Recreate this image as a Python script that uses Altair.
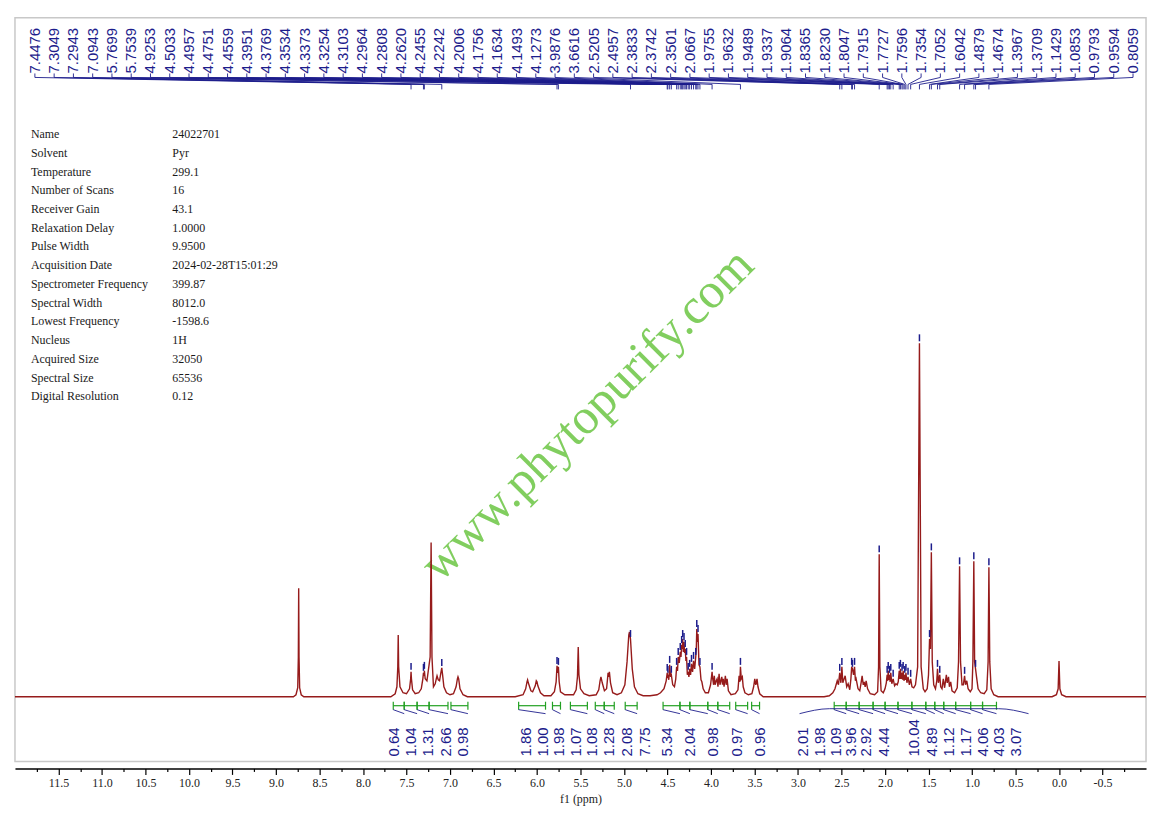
import altair as alt
import pandas as pd

# %%
# 1H NMR spectrum, 24022701 in pyridine
# heights are read off the picture, in pixels above the baseline

# spectrum vertices (ppm, height), one list per region, high ppm first
pyridine = [
    (12.0, 0), (8.80, 0), (8.77, 2), (8.75, 9), (8.743, 40), (8.739, 109),
    (8.735, 40), (8.728, 9), (8.71, 2), (8.68, 0),
    (7.68, 0), (7.63, 3), (7.61, 10), (7.60, 30), (7.595, 62), (7.590, 30),
    (7.575, 10), (7.54, 4), (7.50, 3), (7.465, 8), (7.452, 18), (7.4476, 25),
    (7.443, 18), (7.43, 7), (7.40, 3), (7.36, 4), (7.33, 8), (7.312, 18),
    (7.3049, 24), (7.2995, 21), (7.2943, 26), (7.285, 18), (7.265, 16),
    (7.228, 40), (7.217, 155), (7.207, 40), (7.19, 10), (7.17, 13),
    (7.155, 19), (7.149, 21), (7.135, 17), (7.12, 16), (7.105, 24),
    (7.0943, 29), (7.085, 22), (7.07, 10), (7.04, 4), (7.00, 2), (6.96, 3),
    (6.93, 10), (6.915, 18), (6.908, 20), (6.90, 18), (6.885, 8), (6.85, 2),
    (6.80, 0),
]
olefinic = [
    (6.25, 0), (6.16, 2), (6.13, 8), (6.115, 15), (6.108, 17), (6.10, 14),
    (6.07, 6), (6.05, 5), (6.02, 11), (6.008, 16), (6.0, 15), (5.99, 11),
    (5.96, 4), (5.92, 1), (5.84, 1), (5.80, 5), (5.78, 15), (5.7699, 31),
    (5.762, 24), (5.7539, 30), (5.745, 15), (5.73, 5), (5.68, 2), (5.58, 2),
    (5.55, 7), (5.535, 20), (5.526, 50), (5.518, 22), (5.50, 8), (5.46, 3),
    (5.40, 1), (5.32, 2), (5.29, 7), (5.275, 16), (5.265, 20), (5.25, 14),
    (5.225, 6), (5.20, 8), (5.183, 24), (5.176, 20), (5.168, 25),
    (5.155, 14), (5.13, 4), (5.08, 2), (5.03, 4), (4.99, 12), (4.965, 35),
    (4.945, 62), (4.937, 65), (4.9253, 58), (4.905, 28), (4.88, 10),
    (4.84, 3), (4.78, 1), (4.70, 1), (4.62, 2),
]
sugar = [
    (4.58, 4), (4.54, 8), (4.515, 16), (4.5033, 24), (4.4995, 19),
    (4.4957, 22), (4.485, 17), (4.4751, 32), (4.465, 20), (4.4559, 22),
    (4.44, 12), (4.42, 10), (4.405, 18), (4.3951, 30), (4.385, 26),
    (4.3769, 40), (4.365, 34), (4.3534, 45), (4.345, 40), (4.3373, 52),
    (4.331, 48), (4.3254, 58), (4.318, 45), (4.3103, 55), (4.303, 44),
    (4.2964, 48), (4.288, 36), (4.2808, 40), (4.272, 22), (4.2620, 25),
    (4.254, 20), (4.2455, 28), (4.235, 22), (4.2242, 33), (4.212, 25),
    (4.2006, 36), (4.188, 28), (4.1756, 40), (4.169, 48), (4.1634, 68),
    (4.156, 55), (4.1493, 63), (4.138, 32), (4.1273, 30), (4.115, 17),
    (4.105, 15), (4.09, 8), (4.065, 4),
    (4.03, 4), (4.005, 12), (3.9876, 25), (3.98, 18), (3.97, 12),
    (3.962, 21), (3.953, 12), (3.94, 16), (3.93, 18), (3.92, 10),
    (3.907, 23), (3.897, 12), (3.887, 16), (3.876, 20), (3.868, 12),
    (3.86, 18), (3.85, 10), (3.835, 21), (3.825, 12), (3.815, 18),
    (3.80, 6), (3.77, 2), (3.72, 3), (3.69, 7), (3.677, 21), (3.668, 15),
    (3.6616, 30), (3.652, 18), (3.64, 20), (3.63, 10), (3.61, 4),
    (3.57, 2), (3.53, 3), (3.51, 10), (3.497, 18), (3.485, 12),
    (3.471, 18), (3.46, 10), (3.44, 3), (3.40, 0),
]
aliphatic = [
    (2.70, 0), (2.64, 1), (2.60, 4), (2.575, 8), (2.549, 16), (2.535, 12),
    (2.5205, 24), (2.507, 14), (2.4957, 30), (2.485, 14), (2.458, 21),
    (2.44, 10), (2.424, 13), (2.405, 7), (2.392, 18), (2.3833, 30),
    (2.3742, 28), (2.362, 22), (2.3501, 30), (2.340, 16), (2.332, 18),
    (2.31, 8), (2.29, 6), (2.275, 14), (2.263, 21), (2.25, 12), (2.24, 15),
    (2.228, 10), (2.217, 16), (2.20, 8), (2.17, 3), (2.12, 2), (2.085, 5),
    (2.074, 30), (2.0667, 143), (2.059, 30), (2.045, 6), (2.02, 4),
    (2.00, 8), (1.985, 14), (1.9755, 22), (1.969, 16), (1.9632, 26),
    (1.956, 17), (1.9489, 22), (1.941, 15), (1.9337, 24), (1.922, 13),
    (1.9064, 18), (1.89, 11), (1.875, 13), (1.86, 12), (1.848, 15),
    (1.8365, 26), (1.829, 18), (1.8230, 28), (1.813, 18), (1.8047, 24),
    (1.798, 17), (1.7915, 26), (1.782, 16), (1.7727, 22), (1.766, 17),
    (1.7596, 24), (1.748, 14), (1.7354, 20), (1.72, 12), (1.7052, 18),
    (1.69, 10), (1.67, 9), (1.65, 12), (1.625, 30), (1.6042, 355),
    (1.585, 30), (1.56, 8), (1.54, 5), (1.515, 8), (1.50, 22), (1.4879, 58),
    (1.478, 48), (1.4674, 145), (1.457, 35), (1.44, 12), (1.42, 8),
    (1.405, 16), (1.3967, 28), (1.386, 14), (1.3709, 22), (1.36, 10),
    (1.345, 8), (1.33, 18), (1.315, 9), (1.295, 22), (1.285, 14),
    (1.27, 20), (1.26, 10), (1.245, 15), (1.23, 6), (1.20, 4), (1.17, 9),
    (1.155, 35), (1.1429, 131), (1.132, 35), (1.115, 12), (1.10, 12),
    (1.0853, 21), (1.075, 12), (1.06, 16), (1.045, 8), (1.02, 5), (1.00, 8),
    (0.99, 35), (0.9793, 136), (0.97, 35), (0.9594, 28), (0.948, 20),
    (0.93, 8), (0.90, 4), (0.86, 3), (0.83, 7), (0.815, 35), (0.8059, 130),
    (0.796, 35), (0.78, 8), (0.75, 2), (0.70, 0),
]
tms = [
    (0.08, 0), (0.03, 2), (0.01, 8), (0.0, 36), (-0.01, 8), (-0.03, 2),
    (-0.08, 0), (-1.0, 0),
]

# peak picking labels and the height of the peak under each one
peak_labels = [
    "7.4476", "7.3049", "7.2943", "7.0943", "5.7699", "5.7539", "4.9253",
    "4.5033", "4.4957", "4.4751", "4.4559", "4.3951", "4.3769", "4.3534",
    "4.3373", "4.3254", "4.3103", "4.2964", "4.2808", "4.2620", "4.2455",
    "4.2242", "4.2006", "4.1756", "4.1634", "4.1493", "4.1273", "3.9876",
    "3.6616", "2.5205", "2.4957", "2.3833", "2.3742", "2.3501", "2.0667",
    "1.9755", "1.9632", "1.9489", "1.9337", "1.9064", "1.8365", "1.8230",
    "1.8047", "1.7915", "1.7727", "1.7596", "1.7354", "1.7052", "1.6042",
    "1.4879", "1.4674", "1.3967", "1.3709", "1.1429", "1.0853", "0.9793",
    "0.9594", "0.8059",
]
peak_tops = [
    25, 24, 26, 29, 31, 30, 58,
    24, 22, 32, 22, 30, 40, 45, 52, 58, 55, 48, 40, 25, 28, 33, 36, 40,
    68, 63, 30, 25,
    30, 24, 30, 30, 28, 30, 143,
    22, 26, 22, 24, 18, 26, 28, 24, 26, 22, 24, 20, 18, 355,
    58, 145, 28, 22, 131, 21, 136, 28, 130,
]

# integrals: value and region (from, to) in ppm
int_values = [
    "0.64", "1.04", "1.31", "2.66", "0.98",
    "1.86", "1.00", "1.98", "1.07", "1.08", "1.28", "2.08", "7.75", "5.34",
    "2.04", "0.98", "0.97", "0.96",
    "2.01", "1.98", "1.09", "3.96", "2.92", "4.44", "10.04", "4.89", "1.12",
    "1.17", "4.06", "4.03", "3.07",
]
int_from = [
    7.652, 7.526, 7.378, 7.240, 6.989,
    6.211, 5.822, 5.616, 5.330, 5.227, 4.986, 4.551, 4.357, 4.243, 4.037,
    3.922, 3.716, 3.533,
    2.584, 2.446, 2.297, 2.137, 1.999, 1.851, 1.691, 1.531, 1.428, 1.325,
    1.188, 1.016, 0.879,
]
int_to = [
    7.526, 7.378, 7.240, 7.023, 6.794,
    5.902, 5.730, 5.421, 5.227, 5.112, 4.849, 4.357, 4.243, 4.037, 3.922,
    3.785, 3.579, 3.442,
    2.446, 2.297, 2.137, 1.999, 1.851, 1.691, 1.531, 1.428, 1.325, 1.188,
    1.016, 0.879, 0.719,
]

info_names = [
    "Name", "Solvent", "Temperature", "Number of Scans", "Receiver Gain",
    "Relaxation Delay", "Pulse Width", "Acquisition Date",
    "Spectrometer Frequency", "Spectral Width", "Lowest Frequency",
    "Nucleus", "Acquired Size", "Spectral Size", "Digital Resolution",
]
info_values = [
    "24022701", "Pyr", "299.1", "16", "43.1", "1.0000", "9.9500",
    "2024-02-28T15:01:29", "399.87", "8012.0", "-1598.6", "1H", "32050",
    "65536", "0.12",
]

# %%
# layout
PPM_MAX, PPM_MIN = 12.0, -1.0
W, H = 1136, 747
Y_MIN, Y_MAX = -65, 682
RED = "#961b1b"
NAVY = "#1d1d8c"
GREEN = "#22a022"


def ppm_at(px):
    # page x -> ppm, for placing annotations
    return PPM_MAX - (px - 12) * (PPM_MAX - PPM_MIN) / W


def level_at(py):
    # page y -> height above baseline
    return 698 - py


spec = pd.DataFrame(pyridine + olefinic + sugar + aliphatic + tms,
                    columns=["ppm", "h"])

peaks = pd.DataFrame({"t": peak_labels,
                      "ppm": [float(p) for p in peak_labels],
                      "top": peak_tops})
peaks["m0"] = peaks["top"] + 2
peaks["m1"] = peaks["top"] + 9
peaks["lx"] = [ppm_at(32 + 19.35 * i) for i in range(len(peaks))]
peaks["ly"] = level_at(72)
peaks["y1"] = level_at(76)
peaks["y2"] = level_at(83)
peaks["y3"] = level_at(88)

int_label_px = [393, 410, 427, 445, 462,
                525, 542, 558, 576, 592, 609, 627, 645, 667, 690, 713, 737, 760,
                803, 821, 837, 852, 867, 885, 915, 933, 950, 967, 984, 1000, 1017]
ints = pd.DataFrame({"t": int_values, "a": int_from, "b": int_to})
ints["lx"] = [ppm_at(p) for p in int_label_px]
ints["ly"] = level_at(758)
ints["g"] = -9
ints["g0"] = -5
ints["g1"] = -13
ints["c0"] = -13
ints["c1"] = -17

# long integral trace under the aliphatic group
arch = pd.DataFrame({"x": [ppm_at(p) for p in (800, 830, 1000, 1030)],
                     "y": [-17, -12, -12, -17]})

info = pd.DataFrame({"name": info_names, "value": info_values})
info["y"] = [level_at(133 + 18.8 * i) for i in range(len(info))]
info["xn"] = ppm_at(28)
info["xv"] = ppm_at(170)

mark = pd.DataFrame({"x": [ppm_at(587)], "y": [level_at(415)],
                     "t": ["www.phytopurify.com"]})

# %%
x_scale = alt.Scale(domain=[PPM_MAX, PPM_MIN], nice=False, zero=False)
y_scale = alt.Scale(domain=[Y_MIN, Y_MAX], nice=False, zero=False)
half = "abs(datum.value*2 - round(datum.value*2)) < 0.01"
x_axis = alt.Axis(
    values=[round(11.75 - 0.25 * i, 2) for i in range(51)],
    labelExpr=half + " ? replace(format(datum.value, '.1f'), '\u2212', '-') : ''",
    tickSize={"condition": {"test": half, "value": 6}, "value": 3},
    title="f1 (ppm)",
    offset=7,
    grid=False,
    labelOverlap=False,
    labelFont="Liberation Serif",
    labelFontSize=12,
    labelColor="#222222",
    labelPadding=3,
    titleFont="Liberation Serif",
    titleFontSize=12,
    titleFontWeight="normal",
    titleColor="#222222",
    titlePadding=5,
    domainColor="black",
    domainWidth=1.5,
    tickColor="black",
    tickWidth=1.2,
)


def X(field):
    return alt.X(field, type="quantitative", scale=x_scale, axis=x_axis)


def Y(field):
    return alt.Y(field, type="quantitative", scale=y_scale, axis=None)


spectrum = alt.Chart(spec).mark_line(color=RED, strokeWidth=1.4).encode(
    x=X("ppm"), y=Y("h"))

markers = alt.Chart(peaks).mark_rule(color=NAVY, strokeWidth=1.5).encode(
    x=X("ppm"), y=Y("m0"), y2="m1")

lab_tick = alt.Chart(peaks).mark_rule(color=NAVY, strokeWidth=0.9).encode(
    x=X("lx"), y=Y("ly"), y2="y1")
lab_link = alt.Chart(peaks).mark_rule(color=NAVY, strokeWidth=0.9).encode(
    x=X("lx"), x2="ppm", y=Y("y1"), y2="y2")
lab_drop = alt.Chart(peaks).mark_rule(color=NAVY, strokeWidth=0.9).encode(
    x=X("ppm"), y=Y("y2"), y2="y3")
lab_text = alt.Chart(peaks).mark_text(
    angle=270, align="left", baseline="middle", font="Liberation Sans",
    fontSize=15, color=NAVY).encode(x=X("lx"), y=Y("ly"), text="t:N")

brackets = alt.Chart(ints).mark_rule(color=GREEN, strokeWidth=1.2).encode(
    x=X("a"), x2="b", y=Y("g"))
br_left = alt.Chart(ints).mark_rule(color=GREEN, strokeWidth=1.2).encode(
    x=X("a"), y=Y("g0"), y2="g1")
br_right = alt.Chart(ints).mark_rule(color=GREEN, strokeWidth=1.2).encode(
    x=X("b"), y=Y("g0"), y2="g1")
curves = alt.Chart(ints).mark_rule(color=NAVY, strokeWidth=0.9).encode(
    x=X("a"), x2="b", y=Y("c0"), y2="c1")
trace = alt.Chart(arch).mark_line(color=NAVY, strokeWidth=0.9,
                                  interpolate="monotone").encode(
    x=X("x"), y=Y("y"))
int_text = alt.Chart(ints).mark_text(
    angle=270, align="left", baseline="middle", font="Liberation Sans",
    fontSize=15, color=NAVY).encode(x=X("lx"), y=Y("ly"), text="t:N")

info_name = alt.Chart(info).mark_text(
    align="left", baseline="middle", font="Liberation Serif", fontSize=12,
    color="#1a1a1a").encode(x=X("xn"), y=Y("y"), text="name:N")
info_value = alt.Chart(info).mark_text(
    align="left", baseline="middle", font="Liberation Serif", fontSize=12,
    color="#1a1a1a").encode(x=X("xv"), y=Y("y"), text="value:N")

watermark = alt.Chart(mark).mark_text(
    angle=315, align="center", baseline="middle", font="Liberation Serif",
    fontSize=50, color="#6cc644", opacity=0.85).encode(
    x=X("x"), y=Y("y"), text="t:N")

chart = alt.layer(
    watermark, spectrum, markers, lab_tick, lab_link, lab_drop, lab_text,
    brackets, br_left, br_right, curves, trace, int_text, info_name,
    info_value,
).properties(
    width=W, height=H,
    padding={"left": 4, "top": 8, "right": 2, "bottom": 4},
).configure_view(stroke="#c8c8c8", strokeWidth=1.5)

chart.save("out.html", embed_options={"renderer": "svg", "actions": False})
